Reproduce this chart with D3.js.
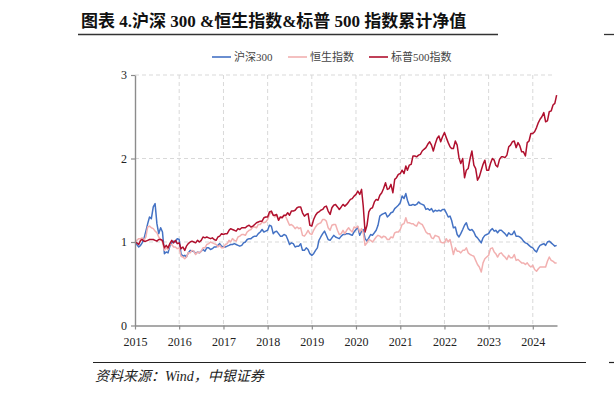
<!DOCTYPE html>
<html><head><meta charset="utf-8">
<script src="https://cdn.jsdelivr.net/npm/d3@7"></script>
<style>
html,body{margin:0;padding:0;background:#fff;}
svg{display:block;}
</style></head>
<body>
<svg id="chart" width="614" height="395"></svg>
<script>
// ---------------- data ----------------
const title = "图表 4.沪深 300 &恒生指数&标普 500 指数累计净值";
const source = "资料来源：Wind，中银证券";
const seriesNames = ["沪深300", "恒生指数", "标普500指数"];
const yTicks = [0, 1, 2, 3];
const xTickYears = [2015, 2016, 2017, 2018, 2019, 2020, 2021, 2022, 2023, 2024];
const startYear = 2015, endYear = 2024, endMonth = 7; // semi-monthly observations (1st & 16th)

// 沪深300 cumulative net value
const hs300 = [
 1.00,0.97,0.94,0.96,0.99,1.04,1.13,1.22,1.30,1.28,1.42,1.46,1.22,1.10,1.17,1.12,0.86,0.88,0.87,0.95,0.99,1.01,1.00,1.04,
 1.03,0.86,0.83,0.84,0.82,0.87,0.90,0.89,0.89,0.86,0.88,0.87,0.89,0.91,0.89,0.93,0.93,0.91,0.92,0.94,0.94,0.96,0.98,0.95,
 0.94,0.94,0.95,0.96,0.97,0.97,0.98,0.97,0.96,0.95,0.96,0.99,1.00,1.03,1.04,1.04,1.06,1.07,1.07,1.10,1.12,1.15,1.12,1.13,
 1.14,1.20,1.19,1.10,1.12,1.13,1.10,1.07,1.07,1.09,1.08,1.03,0.97,0.99,0.98,0.94,0.95,0.95,0.98,0.90,0.90,0.93,0.91,0.86,
 0.84,0.86,0.90,0.93,1.02,1.06,1.10,1.13,1.08,1.03,1.02,1.05,1.08,1.06,1.05,1.04,1.07,1.09,1.09,1.10,1.10,1.09,1.08,1.12,
 1.15,1.18,1.08,1.13,1.15,1.04,1.01,1.05,1.09,1.08,1.11,1.14,1.20,1.31,1.33,1.34,1.35,1.30,1.32,1.35,1.36,1.40,1.42,1.44,
 1.47,1.55,1.52,1.58,1.50,1.44,1.44,1.45,1.44,1.45,1.48,1.46,1.45,1.44,1.39,1.40,1.38,1.40,1.36,1.38,1.37,1.38,1.37,1.39,
 1.39,1.35,1.30,1.31,1.26,1.17,1.18,1.09,1.06,1.10,1.15,1.20,1.23,1.16,1.14,1.15,1.12,1.07,1.05,1.02,0.99,1.05,1.08,1.09,
 1.10,1.14,1.16,1.13,1.14,1.11,1.14,1.14,1.12,1.10,1.07,1.11,1.09,1.09,1.13,1.07,1.07,1.06,1.04,1.01,0.99,0.98,0.96,0.94,
 0.93,0.90,0.88,0.93,0.96,0.97,0.98,0.96,1.00,1.01,0.99,0.97,0.95,0.96
];
// 恒生指数 cumulative net value
const hsi = [
 1.00,1.02,1.04,1.04,1.05,1.02,1.06,1.18,1.19,1.17,1.16,1.13,1.11,1.06,1.03,1.00,0.90,0.93,0.91,0.97,0.97,0.94,0.94,0.92,
 0.93,0.83,0.82,0.80,0.82,0.87,0.87,0.90,0.89,0.85,0.88,0.87,0.89,0.93,0.93,0.97,0.98,1.00,0.99,0.98,0.97,0.94,0.96,0.93,
 0.93,0.97,0.98,1.02,1.00,1.04,1.02,1.01,1.06,1.07,1.09,1.09,1.08,1.12,1.14,1.15,1.18,1.18,1.17,1.21,1.21,1.24,1.23,1.24,
 1.27,1.33,1.36,1.32,1.30,1.33,1.27,1.29,1.30,1.32,1.30,1.25,1.20,1.21,1.19,1.16,1.18,1.16,1.17,1.08,1.07,1.10,1.14,1.10,
 1.09,1.14,1.18,1.21,1.22,1.23,1.27,1.27,1.25,1.17,1.14,1.20,1.21,1.21,1.14,1.09,1.10,1.14,1.10,1.14,1.17,1.14,1.12,1.18,
 1.17,1.19,1.12,1.16,1.11,0.96,0.99,1.03,1.02,1.00,1.03,1.06,1.08,1.07,1.05,1.07,1.06,1.03,1.03,1.06,1.05,1.11,1.12,1.12,
 1.15,1.21,1.22,1.29,1.23,1.23,1.22,1.22,1.20,1.19,1.24,1.22,1.21,1.17,1.12,1.10,1.10,1.05,1.04,1.08,1.07,1.06,1.00,0.99,
 0.99,1.04,1.00,1.03,0.95,0.85,0.93,0.89,0.89,0.87,0.90,0.90,0.93,0.87,0.85,0.84,0.83,0.78,0.73,0.70,0.64,0.75,0.80,0.82,
 0.84,0.92,0.93,0.88,0.86,0.82,0.86,0.87,0.84,0.82,0.79,0.84,0.81,0.81,0.85,0.78,0.79,0.77,0.75,0.75,0.73,0.75,0.72,0.70,
 0.72,0.67,0.65,0.68,0.70,0.70,0.70,0.70,0.77,0.82,0.78,0.77,0.75,0.75
];
// 标普500指数 cumulative net value
const spx = [
 1.00,0.99,0.97,1.02,1.03,1.01,1.01,1.02,1.03,1.03,1.03,1.02,1.01,1.03,1.03,1.02,0.93,0.96,0.93,0.98,1.02,0.99,1.02,0.98,
 0.99,0.92,0.94,0.90,0.95,0.98,1.00,1.01,1.00,0.99,1.02,1.00,1.02,1.06,1.05,1.06,1.05,1.04,1.05,1.03,1.02,1.06,1.07,1.10,
 1.09,1.10,1.10,1.14,1.16,1.15,1.14,1.13,1.16,1.15,1.17,1.17,1.17,1.19,1.20,1.18,1.19,1.21,1.23,1.24,1.25,1.25,1.29,1.30,
 1.30,1.36,1.37,1.32,1.32,1.33,1.26,1.30,1.29,1.32,1.32,1.35,1.32,1.37,1.37,1.38,1.41,1.42,1.42,1.35,1.31,1.33,1.34,1.20,
 1.19,1.27,1.32,1.35,1.36,1.38,1.39,1.42,1.43,1.37,1.33,1.41,1.44,1.45,1.42,1.39,1.42,1.45,1.43,1.45,1.48,1.51,1.52,1.55,
 1.57,1.61,1.57,1.63,1.43,1.12,1.20,1.36,1.40,1.41,1.48,1.51,1.50,1.56,1.59,1.64,1.71,1.63,1.64,1.69,1.59,1.75,1.77,1.81,
 1.82,1.86,1.82,1.91,1.86,1.92,1.93,2.03,2.03,2.02,2.04,2.05,2.09,2.11,2.13,2.17,2.20,2.16,2.09,2.17,2.24,2.27,2.20,2.26,
 2.31,2.25,2.19,2.14,2.12,2.12,2.21,2.16,2.01,1.94,2.00,1.77,1.86,1.88,2.00,2.09,1.92,1.88,1.74,1.78,1.86,1.93,1.98,1.86,
 1.86,1.94,2.00,1.98,1.92,1.90,1.99,2.02,2.02,2.01,2.04,2.14,2.16,2.20,2.21,2.13,2.19,2.15,2.08,2.08,2.03,2.19,2.21,2.30,
 2.30,2.32,2.37,2.43,2.47,2.50,2.55,2.44,2.45,2.56,2.57,2.64,2.66,2.76
];
const colors = ["#4472C4", "#F2B0B0", "#B0102E"];

// observation dates (1st and 16th of each month)
const dates = [];
for (let yr = startYear; yr <= endYear; yr++) {
  for (let m = 0; m < 12; m++) {
    if (yr === endYear && m >= endMonth) break;
    dates.push(new Date(yr, m, 1), new Date(yr, m, 16));
  }
}

// ---------------- layout ----------------
const svg = d3.select("#chart");
const serif = "'Liberation Serif','Times New Roman','Noto Sans CJK SC',serif";
const cjk = "'Liberation Serif','Noto Sans CJK SC',serif";
const plotL = 135, plotR = 557, plotT = 75, plotB = 325.5;

const x = d3.scaleTime().domain([new Date(2015,0,1), new Date(2024,6,19)]).range([plotL, plotR]);
const y = d3.scaleLinear().domain([0, 3]).range([plotB, plotT]);

// title
svg.append("text").attr("x", 81).attr("y", 27)
  .attr("font-family", cjk).attr("font-weight", "bold").attr("font-size", 17)
  .attr("fill", "#111").text(title);
svg.append("line").attr("x1", 78).attr("x2", 498).attr("y1", 34.5).attr("y2", 34.5)
  .attr("stroke", "#333").attr("stroke-width", 1.3);
// fragment of the neighbouring chart's rule at the right edge
svg.append("line").attr("x1", 604).attr("x2", 614).attr("y1", 34.5).attr("y2", 34.5)
  .attr("stroke", "#333").attr("stroke-width", 1.3);

// legend
const legendPos = [[212, 234], [288, 310], [369, 391]];
seriesNames.forEach((n, i) => {
  const g = svg.append("g");
  g.append("line").attr("x1", legendPos[i][0]).attr("x2", legendPos[i][0] + 19)
    .attr("y1", 57).attr("y2", 57).attr("stroke", colors[i]).attr("stroke-width", 1.6);
  g.append("text").attr("x", legendPos[i][1]).attr("y", 61)
    .attr("font-family", cjk).attr("font-size", 11).attr("fill", "#444").text(n);
});

// gridlines
const grid = svg.append("g").attr("stroke", "#D9D9D9").attr("stroke-width", 1).attr("stroke-dasharray", "4,3");
yTicks.filter(d => d > 0).forEach(t => {
  grid.append("line").attr("x1", plotL).attr("x2", 553).attr("y1", y(t)).attr("y2", y(t));
});
xTickYears.filter(yr => yr > 2015).forEach(yr => {
  const xx = x(new Date(yr, 0, 1));
  grid.append("line").attr("x1", xx).attr("x2", xx).attr("y1", plotT).attr("y2", plotB);
});

// lines
const lineGen = d3.line().x((d, i) => x(dates[i])).y(d => y(d));
[hs300, hsi, spx].forEach((s, i) => {
  svg.append("path").datum(s).attr("d", lineGen).attr("fill", "none")
    .attr("stroke", colors[i]).attr("stroke-width", 1.5).attr("stroke-linejoin", "round");
});

// axes
const xAxis = d3.axisBottom(x).tickValues(xTickYears.map(yr => new Date(yr, 0, 1)))
  .tickFormat(d3.timeFormat("%Y")).tickSize(4).tickSizeOuter(0);
const gx = svg.append("g").attr("transform", `translate(0,${plotB})`).call(xAxis);
gx.select(".domain").attr("stroke", "#8C8C8C").attr("stroke-width", 1.4);
gx.selectAll(".tick line").attr("stroke", "#8C8C8C").attr("stroke-width", 1.2);
gx.selectAll(".tick text").attr("font-family", serif).attr("font-size", 12).attr("fill", "#222").attr("dy", "1.1em");

const yAxis = d3.axisLeft(y).tickValues(yTicks).tickFormat(d3.format("d")).tickSize(4).tickSizeOuter(0);
const gy = svg.append("g").attr("transform", `translate(${plotL},0)`).call(yAxis);
gy.select(".domain").attr("stroke", "#8C8C8C").attr("stroke-width", 1.4);
gy.selectAll(".tick line").attr("stroke", "#8C8C8C").attr("stroke-width", 1.2);
gy.selectAll(".tick text").attr("font-family", serif).attr("font-size", 12).attr("fill", "#222").attr("x", -8);

// source
svg.append("line").attr("x1", 93).attr("x2", 586).attr("y1", 362.5).attr("y2", 362.5)
  .attr("stroke", "#222").attr("stroke-width", 1.2);
svg.append("line").attr("x1", 609).attr("x2", 614).attr("y1", 362.5).attr("y2", 362.5)
  .attr("stroke", "#222").attr("stroke-width", 1.2);
svg.append("text").attr("x", 95).attr("y", 381)
  .attr("font-family", cjk).attr("font-style", "italic").attr("font-size", 14)
  .attr("fill", "#222").text(source);
</script>
</body></html>
